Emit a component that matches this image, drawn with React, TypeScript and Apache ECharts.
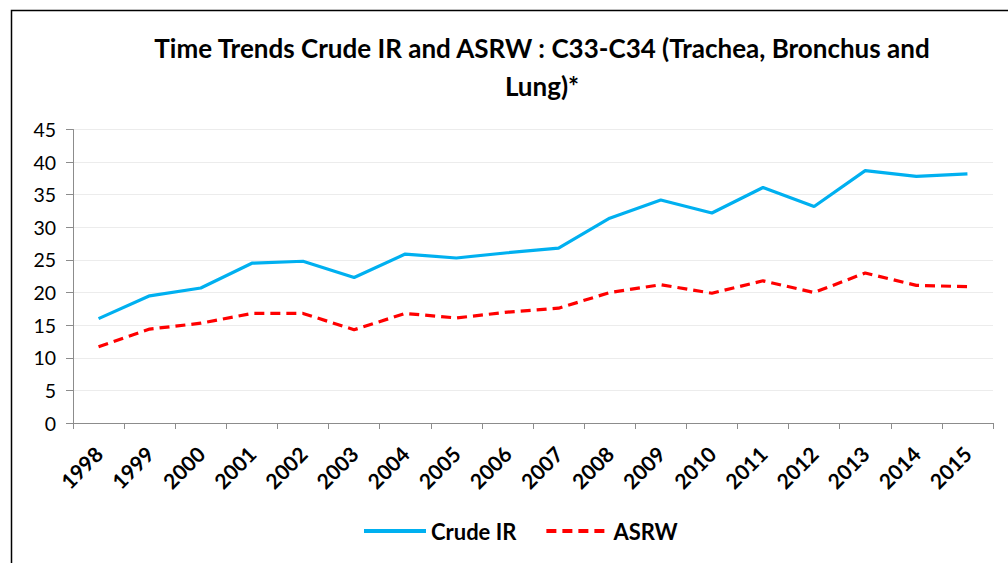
import React, { useEffect, useRef } from "react";
import * as echarts from "echarts";

const years = ["1998","1999","2000","2001","2002","2003","2004","2005","2006","2007","2008","2009","2010","2011","2012","2013","2014","2015"];
const crudeIR = [16.0,19.5,20.7,24.5,24.8,22.3,25.9,25.3,26.1,26.8,31.4,34.2,32.2,36.1,33.2,38.7,37.8,38.2];
const asrw = [11.7,14.4,15.3,16.8,16.8,14.3,16.8,16.1,17.0,17.6,20.0,21.2,19.9,21.8,20.0,23.0,21.1,20.9];
const titleText = "Time Trends Crude IR and ASRW : C33-C34 (Trachea, Bronchus and\nLung)*";
const FONT = "Lato, 'Open Sans', sans-serif";

export default function App() {
  const ref = useRef<HTMLDivElement>(null);
  useEffect(() => {
    const chart = echarts.init(ref.current!, null, { renderer: "svg" });
    chart.setOption({
      animation: false,
      backgroundColor: "#fff",
      textStyle: { fontFamily: FONT },
      title: {
        text: titleText,
        left: 537,
        top: 24,
        textAlign: "center",
        textStyle: { fontSize: 26, fontWeight: "bold", color: "#000", lineHeight: 38, fontFamily: FONT },
      },
      graphic: [
        {
          type: "rect",
          shape: { x: 11.5, y: 10.5, width: 1100, height: 700 },
          style: { fill: "none", stroke: "#000", lineWidth: 1.5 },
          silent: true,
        },
      ],
      legend: {
        bottom: 16,
        left: 357,
        itemWidth: 62,
        itemHeight: 14,
        itemGap: 28,
        itemStyle: { opacity: 0 },
        lineStyle: { width: 4 },
        textStyle: { fontSize: 22, fontWeight: "bold", color: "#000", fontFamily: FONT },
        data: ["Crude IR", "ASRW"],
      },
      grid: { left: 73, right: 15, top: 129.5, bottom: 140, containLabel: false },
      xAxis: {
        type: "category",
        data: years,
        boundaryGap: true,
        axisLine: { lineStyle: { color: "#8c8c8c", width: 1 } },
        axisTick: { show: true, length: 6, alignWithLabel: false, lineStyle: { color: "#8c8c8c" } },
        axisLabel: { rotate: 45, fontSize: 21, fontWeight: "bold", color: "#000", margin: 27, interval: 0, fontFamily: FONT },
      },
      yAxis: {
        type: "value",
        min: 0,
        max: 45,
        interval: 5,
        axisLine: { show: true, lineStyle: { color: "#8c8c8c", width: 1 } },
        axisTick: { show: true, length: 7, lineStyle: { color: "#8c8c8c" } },
        splitLine: { lineStyle: { color: "#ececec", width: 1 } },
        axisLabel: { fontSize: 19.5, color: "#000", margin: 17, fontFamily: FONT },
      },
      series: [
        {
          name: "Crude IR",
          type: "line",
          data: crudeIR,
          symbol: "none",
          color: "#00B0F0",
          lineStyle: { color: "#00B0F0", width: 3.2 },
        },
        {
          name: "ASRW",
          type: "line",
          data: asrw,
          symbol: "none",
          color: "#FF0000",
          lineStyle: { color: "#FF0000", width: 3.2, type: [10, 6] },
        },
      ],
    });
    return () => chart.dispose();
  }, []);
  return <div ref={ref} style={{ position: "absolute", left: 0, top: 0, width: 1008, height: 563 }} />;
}
